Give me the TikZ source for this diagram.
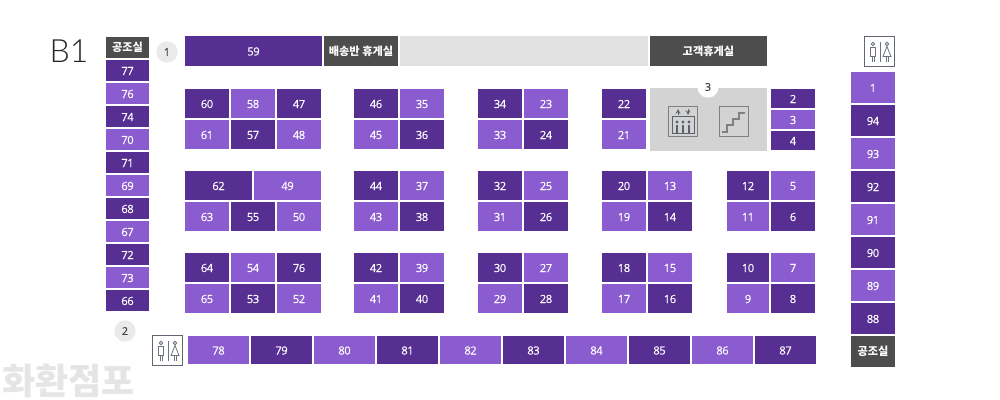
\documentclass[tikz,border=0pt]{standalone}
\usepackage{fontspec}
\setmainfont{Noto Sans CJK KR}
\newfontfamily\numfont[FakeBold=0.35,LetterSpace=-4]{Open Sans}
\newfontfamily\thinfont{Lato Light}
\definecolor{dk}{HTML}{572F92}
\definecolor{lt}{HTML}{8B5CD0}
\definecolor{gr}{HTML}{4D4D4D}
\definecolor{pale}{HTML}{E1E1E1}
\definecolor{ev}{HTML}{D3D3D3}
\definecolor{icon}{HTML}{6B7280}
\newcommand{\room}[6]{% name, x0,y0,x1,y1,colour
  \fill[#6] (#2,#3) rectangle (#4,#5);
  \node[roomtext] (r#1) at ({(#2+#4)/2},{(#3+#5)/2+0.5}) {#1};
}
\newcommand{\named}[7]{%
  \fill[#6] (#2,#3) rectangle (#4,#5);
  \node[labeltext] (#1) at ({(#2+#4)/2},{(#3+#5)/2}) {#7};
}
\newcommand{\wc}[3]{% name,x,y
  \node[draw=icon!90!black,line width=0.7pt,fill=white,minimum width=22.5pt,minimum height=22.5pt,inner sep=0pt,anchor=north west] (#1) at (#2,#3) {};
  \begin{scope}[shift={(#2,#3)},icon,line width=0.6pt]
    \draw (16,6) -- (16,26);
    \draw (9,8) circle (1.8);
    \draw (6.5,11) rectangle (11.5,20);
    \draw (8,20) -- (8,26) (10,20) -- (10,26);
    \draw (23,8) circle (1.8);
    \draw (23,10.5) -- (19,20.5) -- (27,20.5) -- cycle;
    \draw (22,20.5) -- (22,26) (24,20.5) -- (24,26);
  \end{scope}
}
\tikzset{x=0.75pt,y=-0.75pt,
  roomtext/.style={text=white,font=\numfont\fontsize{8.4}{9}\selectfont,inner sep=0pt},
  labeltext/.style={text=white,font=\bfseries\fontsize{8.4}{9}\selectfont,inner sep=0pt},
  badge/.style={circle,fill=#1,minimum size=16pt,inner sep=0pt,text=black!75,font=\numfont\fontsize{8}{9}\selectfont}
}
\begin{document}
\begin{tikzpicture}
\useasboundingbox[fill=white] (0,0) rectangle (1000,400);
\node[anchor=center,inner sep=0pt,text=black!85,font=\thinfont\fontsize{24}{30}\selectfont] (title) at (69,51) {B1};
\node[anchor=west,inner sep=0pt,text=black!10,font=\bfseries\fontsize{27}{30}\selectfont] (shop) at (2,381) {화환점포};
% left column
\named{wcl}{106}{37}{149}{58}{gr}{공조실}
\room{77}{106}{60}{149}{81}{dk}
\room{76}{106}{83}{149}{104}{lt}
\room{74}{106}{106}{149}{127}{dk}
\room{70}{106}{129}{149}{150}{lt}
\room{71}{106}{152}{149}{173}{dk}
\room{69}{106}{175}{149}{196}{lt}
\room{68}{106}{198}{149}{219}{dk}
\room{67}{106}{221}{149}{242}{lt}
\room{72}{106}{244}{149}{265}{dk}
\room{73}{106}{267}{149}{288}{lt}
\room{66}{106}{290}{149}{311}{dk}
% top
\room{59}{185}{36}{322}{66}{dk}
\named{rest1}{324}{36}{398}{66}{gr}{배송반 휴게실}
\fill[pale] (400,36) rectangle (648,66);
\named{rest2}{650}{36}{767}{66}{gr}{고객휴게실}
% block 1
\room{60}{185}{89}{229}{118}{dk}
\room{58}{231}{89}{275}{118}{lt}
\room{47}{277}{89}{321}{118}{dk}
\room{61}{185}{120}{229}{149}{lt}
\room{57}{231}{120}{275}{149}{dk}
\room{48}{277}{120}{321}{149}{lt}
\room{62}{185}{171}{252}{200}{dk}
\room{49}{254}{171}{321}{200}{lt}
\room{63}{185}{202}{229}{231}{lt}
\room{55}{231}{202}{275}{231}{dk}
\room{50}{277}{202}{321}{231}{lt}
\room{64}{185}{253}{229}{282}{dk}
\room{54}{231}{253}{275}{282}{lt}
\room{76}{277}{253}{321}{282}{dk}
\room{65}{185}{284}{229}{313}{lt}
\room{53}{231}{284}{275}{313}{dk}
\room{52}{277}{284}{321}{313}{lt}
% block 2
\room{46}{354}{89}{398}{118}{dk}
\room{35}{400}{89}{444}{118}{lt}
\room{45}{354}{120}{398}{149}{lt}
\room{36}{400}{120}{444}{149}{dk}
\room{44}{354}{171}{398}{200}{dk}
\room{37}{400}{171}{444}{200}{lt}
\room{43}{354}{202}{398}{231}{lt}
\room{38}{400}{202}{444}{231}{dk}
\room{42}{354}{253}{398}{282}{dk}
\room{39}{400}{253}{444}{282}{lt}
\room{41}{354}{284}{398}{313}{lt}
\room{40}{400}{284}{444}{313}{dk}
% block 3
\room{34}{478}{89}{522}{118}{dk}
\room{23}{524}{89}{568}{118}{lt}
\room{33}{478}{120}{522}{149}{lt}
\room{24}{524}{120}{568}{149}{dk}
\room{32}{478}{171}{522}{200}{dk}
\room{25}{524}{171}{568}{200}{lt}
\room{31}{478}{202}{522}{231}{lt}
\room{26}{524}{202}{568}{231}{dk}
\room{30}{478}{253}{522}{282}{dk}
\room{27}{524}{253}{568}{282}{lt}
\room{29}{478}{284}{522}{313}{lt}
\room{28}{524}{284}{568}{313}{dk}
% block 4
\room{22}{602}{89}{646}{118}{dk}
\room{21}{602}{120}{646}{149}{lt}
\room{20}{602}{171}{646}{200}{dk}
\room{13}{648}{171}{692}{200}{lt}
\room{19}{602}{202}{646}{231}{lt}
\room{14}{648}{202}{692}{231}{dk}
\room{18}{602}{253}{646}{282}{dk}
\room{15}{648}{253}{692}{282}{lt}
\room{17}{602}{284}{646}{313}{lt}
\room{16}{648}{284}{692}{313}{dk}
% block 5
\room{2}{771}{89}{815}{108}{dk}
\room{3}{771}{110}{815}{129}{lt}
\room{4}{771}{131}{815}{150}{dk}
\room{12}{727}{171}{769}{200}{dk}
\room{5}{771}{171}{815}{200}{lt}
\room{11}{727}{202}{769}{231}{lt}
\room{6}{771}{202}{815}{231}{dk}
\room{10}{727}{253}{769}{282}{dk}
\room{7}{771}{253}{815}{282}{lt}
\room{9}{727}{284}{769}{313}{lt}
\room{8}{771}{284}{815}{313}{dk}
% right column
\room{1}{851}{72}{895}{103}{lt}
\room{94}{851}{105}{895}{136}{dk}
\room{93}{851}{138}{895}{169}{lt}
\room{92}{851}{171}{895}{202}{dk}
\room{91}{851}{204}{895}{235}{lt}
\room{90}{851}{237}{895}{268}{dk}
\room{89}{851}{270}{895}{301}{lt}
\room{88}{851}{303}{895}{334}{dk}
\named{wcr}{851}{336}{895}{367}{gr}{공조실}
% bottom
\room{78}{188}{336}{249}{364}{lt}
\room{79}{251}{336}{312}{364}{dk}
\room{80}{314}{336}{375}{364}{lt}
\room{81}{377}{336}{438}{364}{dk}
\room{82}{440}{336}{501}{364}{lt}
\room{83}{503}{336}{564}{364}{dk}
\room{84}{566}{336}{627}{364}{lt}
\room{85}{629}{336}{690}{364}{dk}
\room{86}{692}{336}{753}{364}{lt}
\room{87}{755}{336}{816}{364}{dk}
% lift lobby
\fill[ev] (650,88) rectangle (767,151);
\node[badge=pale!70] (b1) at (167,52) {1};
\node[badge=pale!70] (b2) at (125,331) {2};
\node[badge=white] (b3) at (708,87) {3};
% elevator icon
\node[draw=gray,line width=1pt,fill=ev,minimum width=22pt,minimum height=22.5pt,inner sep=0pt,anchor=north west] (lift) at (667.5,106) {};
\begin{scope}[icon!85!black,line width=0.6pt]
  \draw (672,116) rectangle (694,133);
  \draw[-stealth] (678,115) -- (678,109);
  \draw[-stealth] (688,109) -- (688,115);
  \foreach \xx in {677,683,689} {
    \fill (\xx,122) circle (1.6);
    \draw[line width=2pt] (\xx,124.5) -- (\xx,133);
  }
\end{scope}
% stairs icon
\node[draw=gray,line width=1pt,fill=ev,minimum width=22pt,minimum height=22.5pt,inner sep=0pt,anchor=north west] (stairs) at (718.5,106) {};
\draw[gray,line width=0.8pt] (722,132) -- (727,132) -- (727,125) -- (733,125) -- (733,119) -- (739,119) -- (739,113) -- (745,113);
% restroom icons
\wc{wc1}{864}{36}
\wc{wc2}{152}{335}
\end{tikzpicture}
\end{document}
